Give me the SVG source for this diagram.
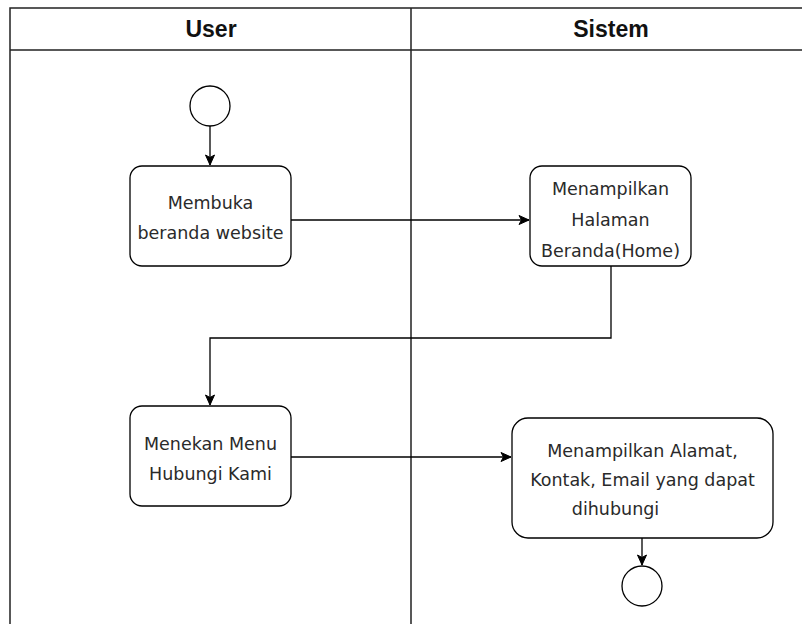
<svg xmlns="http://www.w3.org/2000/svg" width="802" height="624" viewBox="0 0 802 624">
<defs>
<style>
.lane{fill:none;stroke:#222;stroke-width:1.5}
.hdr{font-family:"Liberation Sans",Arial,sans-serif;font-weight:bold;font-size:24px;fill:#111;text-anchor:middle}
.box{fill:#fff;stroke:#000;stroke-width:1.3}
.t{font-family:"DejaVu Sans",Verdana,sans-serif;font-size:17.5px;fill:#2a2a2a;text-anchor:middle}
.c{fill:#fff;stroke:#000;stroke-width:1.3}
.e{fill:none;stroke:#000;stroke-width:1.3}
</style>
<marker id="ah" markerWidth="12" markerHeight="12" refX="11" refY="6" orient="auto" markerUnits="userSpaceOnUse">
<path d="M1,1.5 L11,6 L1,10.5 L3.5,6 Z" fill="#000" stroke="#000" stroke-width="1"/>
</marker>
</defs>
<rect width="802" height="624" fill="#fff"/>
<g id="lanes">
<path class="lane" d="M10,624 V8 H802 M10,50 H802 M411,8 V624"/>
<text class="hdr" transform="translate(211,37) scale(0.96,1)">User</text>
<text class="hdr" transform="translate(611,37) scale(0.96,1)">Sistem</text>
</g>
<g id="connectors">
<path class="e" d="M210,126 V165" marker-end="url(#ah)"/>
<path class="e" d="M291,220 H529" marker-end="url(#ah)"/>
<path class="e" d="M611,266 V338 H210 V405" marker-end="url(#ah)"/>
<path class="e" d="M291,457 H511" marker-end="url(#ah)"/>
<path class="e" d="M642,538 V565" marker-end="url(#ah)"/>
</g>
<g id="start"><circle class="c" cx="210" cy="106" r="20"/></g>
<g id="n1">
<rect class="box" x="130" y="166" width="161" height="100" rx="12"/>
<text class="t" x="210.5" y="209">Membuka</text>
<text class="t" x="210.5" y="239">beranda website</text>
</g>
<g id="n2">
<rect class="box" x="530" y="166" width="161" height="100" rx="12"/>
<text class="t" x="610.5" y="195">Menampilkan</text>
<text class="t" x="610.5" y="226">Halaman</text>
<text class="t" x="610.5" y="257">Beranda(Home)</text>
</g>
<g id="n3">
<rect class="box" x="130" y="406" width="161" height="100" rx="12"/>
<text class="t" x="210.5" y="450">Menekan Menu</text>
<text class="t" x="210.5" y="480">Hubungi Kami</text>
</g>
<g id="n4">
<rect class="box" x="512" y="418" width="261" height="120" rx="16"/>
<text class="t" x="642.5" y="457">Menampilkan Alamat,</text>
<text class="t" x="642.5" y="486">Kontak, Email yang dapat</text>
<text class="t" x="615.5" y="515">dihubungi</text>
</g>
<g id="end"><circle class="c" cx="642" cy="586" r="20"/></g>
</svg>
